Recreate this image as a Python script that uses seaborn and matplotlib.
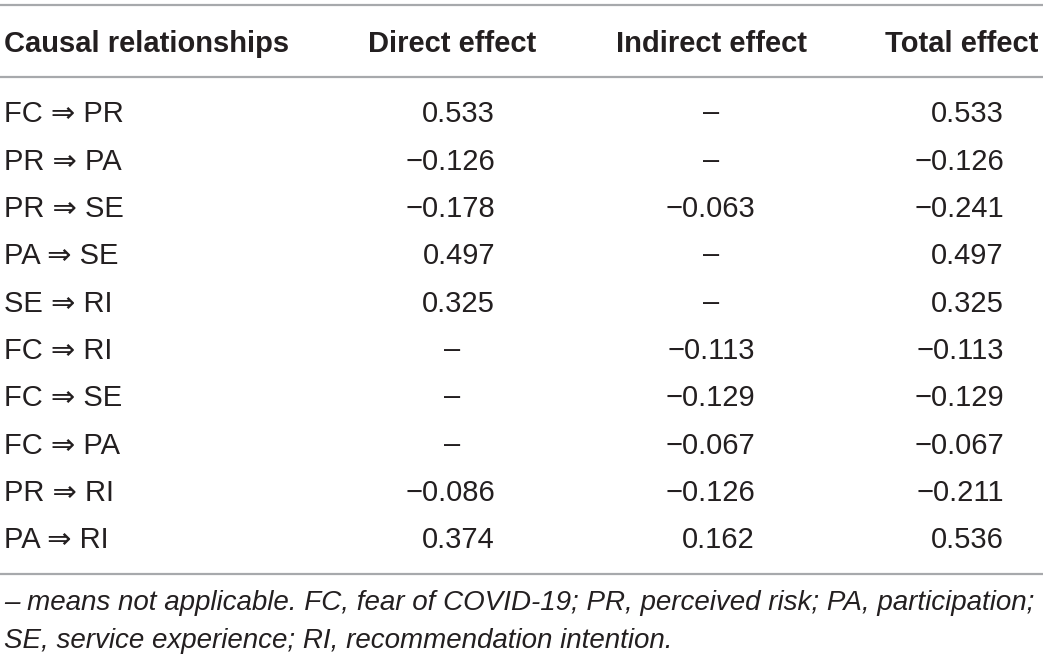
import matplotlib
matplotlib.use("Agg")
import matplotlib.pyplot as plt
import seaborn as sns

# table data

relationships = ["FC ⇒ PR", "PR ⇒ PA", "PR ⇒ SE", "PA ⇒ SE", "SE ⇒ RI",
                 "FC ⇒ RI", "FC ⇒ SE", "FC ⇒ PA", "PR ⇒ RI", "PA ⇒ RI"]
direct = [0.533, -0.126, -0.178, 0.497, 0.325, None, None, None, -0.086, 0.374]
indirect = [None, None, -0.063, None, None, -0.113, -0.129, -0.067, -0.126, 0.162]
total = [0.533, -0.126, -0.241, 0.497, 0.325, -0.113, -0.129, -0.067, -0.211, 0.536]

headers = ["Causal relationships", "Direct effect", "Indirect effect", "Total effect"]
footnote = ["– means not applicable. FC, fear of COVID-19; PR, perceived risk; PA, participation;",
            "SE, service experience; RI, recommendation intention."]

sns.set_theme(style="white")
plt.rcParams['font.family'] = ['Liberation Sans', 'DejaVu Sans']

fig = plt.figure(figsize=(10.43, 6.6), dpi=100)
ax = fig.add_axes([0, 0, 1, 1])
ax.set_xlim(0, 1043)
ax.set_ylim(660, 0)
ax.axis("off")

ink = "#231f20"
rule = "#a7a9ac"
fs = 21


def fmt(v):
    if v is None:
        return None
    return f"{v:.3f}".replace("-", "\u2212")


# rules
for y in [5, 77, 574]:
    ax.axhline(y, color=rule, lw=1.6)

# header
head_base = 51.5
col_centers = [452, 711, 962]
col_rights = [495, 755, 1004]
ax.text(4, head_base, headers[0], ha="left", va="baseline", fontsize=fs,
        fontweight="bold", color=ink)
for c, h in zip(col_centers, headers[1:]):
    ax.text(c, head_base, h, ha="center", va="baseline", fontsize=fs,
            fontweight="bold", color=ink)

# body rows
row0, step = 122.5, 47.33
for i, rel in enumerate(relationships):
    y = row0 + i * step
    ax.text(4, y, rel, ha="left", va="baseline", fontsize=fs, color=ink)
    for j, col in enumerate([direct, indirect, total]):
        s = fmt(col[i])
        if s is None:
            ax.text(col_centers[j], y - 1, "–", ha="center", va="baseline",
                    fontsize=fs, color=ink)
        else:
            ax.text(col_rights[j], y, s, ha="right", va="baseline", fontsize=fs, color=ink)

# footnote
for k, line in enumerate(footnote):
    ax.text(4, 610 + k * 38, line, ha="left", va="baseline", fontsize=20,
            style="italic", color=ink)

fig.savefig("out.png", dpi=100)
